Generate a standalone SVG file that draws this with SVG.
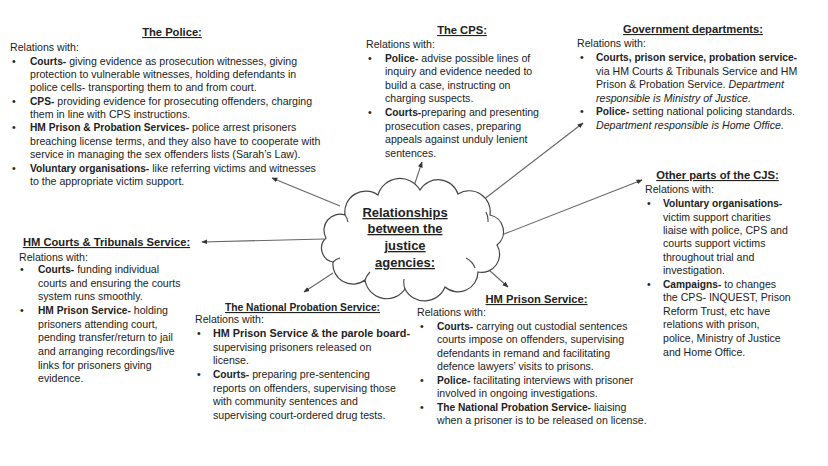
<svg xmlns="http://www.w3.org/2000/svg" width="828" height="466" viewBox="0 0 828 466">
<defs>
<style>
text{font-family:"Liberation Sans",Arial,sans-serif;font-size:10.6px;fill:#222}
.t{font-weight:bold;font-size:11.2px;text-decoration:underline;text-anchor:middle}
.b{font-weight:bold;font-size:10.2px}
.i{font-style:italic}
.c{font-weight:bold;font-size:13px;text-decoration:underline;text-anchor:middle}
.ln{stroke:#666;stroke-width:1.1;fill:none;marker-end:url(#ah)}
</style>
<marker id="ah" viewBox="0 0 10 10" refX="9" refY="5" markerWidth="6" markerHeight="6" orient="auto" markerUnits="userSpaceOnUse">
<path d="M0,1 L10,5 L0,9 z" fill="#333"/>
</marker>
</defs>
<rect width="828" height="466" fill="#fff"/>

<g id="connectors">
<line class="ln" x1="340" y1="206" x2="272" y2="178"/>
<line class="ln" x1="412" y1="192" x2="422" y2="162"/>
<line class="ln" x1="483" y1="200" x2="583" y2="123"/>
<line class="ln" x1="499" y1="236" x2="642" y2="180"/>
<line class="ln" x1="324" y1="239" x2="202" y2="242"/>
<line class="ln" x1="333" y1="273" x2="304" y2="292"/>
<line class="ln" x1="480" y1="262" x2="508" y2="287"/>
</g>

<g id="cloud">
<path d="M345,215 A21,21 0 0 1 378,195 A23,23 0 0 1 420,190 A21,21 0 0 1 458,194 A21,21 0 0 1 490,215 A17,17 0 0 1 497,245 A18,18 0 0 1 478,272 A20,20 0 0 1 445,287 A22,22 0 0 1 405,289 A22,22 0 0 1 365,280 A20,20 0 0 1 333,262 A14,14 0 0 1 326,238 A16,16 0 0 1 345,215 Z" fill="#fff" stroke="#444" stroke-width="1.2"/>
<path d="M486,212 A18,18 0 0 1 488,222 M475,268 A18,18 0 0 0 466,258 M405,289 A20,20 0 0 1 404,279 M365,280 A20,20 0 0 1 370,272 M333,262 A14,14 0 0 1 340,258 M345,215 A16,16 0 0 1 348,222" fill="none" stroke="#444" stroke-width="1.1"/>
<text class="c" x="405" y="217">Relationships</text>
<text class="c" x="405" y="233">between the</text>
<text class="c" x="405" y="250">justice</text>
<text class="c" x="405" y="267">agencies:</text>
</g>

<g id="police">
<text class="t" x="172" y="36">The Police:</text>
<text x="10" y="51">Relations with:</text>
<text x="12" y="64.5">•</text><text x="30" y="64.5"><tspan class="b">Courts-</tspan> giving evidence as prosecution witnesses, giving</text>
<text x="30" y="78">protection to vulnerable witnesses, holding defendants in</text>
<text x="30" y="91">police cells- transporting them to and from court.</text>
<text x="12" y="104.5">•</text><text x="30" y="104.5"><tspan class="b">CPS-</tspan> providing evidence for prosecuting offenders, charging</text>
<text x="30" y="118">them in line with CPS instructions.</text>
<text x="12" y="131">•</text><text x="30" y="131"><tspan class="b">HM Prison &amp; Probation Services-</tspan> police arrest prisoners</text>
<text x="30" y="144.5">breaching license terms, and they also have to cooperate with</text>
<text x="30" y="158">service in managing the sex offenders lists (Sarah’s Law).</text>
<text x="12" y="171.5">•</text><text x="30" y="171.5"><tspan class="b">Voluntary organisations-</tspan> like referring victims and witnesses</text>
<text x="30" y="185">to the appropriate victim support.</text>
</g>

<g id="cps">
<text class="t" x="462" y="34">The CPS:</text>
<text x="366" y="48">Relations with:</text>
<text x="368" y="62">•</text><text x="385" y="62"><tspan class="b">Police-</tspan> advise possible lines of</text>
<text x="385" y="75">inquiry and evidence needed to</text>
<text x="385" y="89">build a case, instructing on</text>
<text x="385" y="102">charging suspects.</text>
<text x="368" y="116">•</text><text x="385" y="116"><tspan class="b">Courts-</tspan>preparing and presenting</text>
<text x="385" y="130">prosecution cases, preparing</text>
<text x="385" y="143">appeals against unduly lenient</text>
<text x="385" y="157">sentences.</text>
</g>

<g id="government">
<text class="t" x="693" y="33">Government departments:</text>
<text x="577" y="47">Relations with:</text>
<text x="580" y="61">•</text><text x="596" y="61" class="b" textLength="201" lengthAdjust="spacingAndGlyphs">Courts, prison service, probation service-</text>
<text x="596" y="75">via HM Courts &amp; Tribunals Service and HM</text>
<text x="596" y="88">Prison &amp; Probation Service. <tspan class="i">Department</tspan></text>
<text x="596" y="101.5" class="i">responsible is Ministry of Justice.</text>
<text x="580" y="115">•</text><text x="596" y="115"><tspan class="b">Police-</tspan> setting national policing standards.</text>
<text x="596" y="129" class="i">Department responsible is Home Office.</text>
</g>

<g id="other-cjs">
<text class="t" x="717.5" y="179">Other parts of the CJS:</text>
<text x="645" y="193">Relations with:</text>
<text x="647" y="207">•</text><text x="663" y="207" class="b">Voluntary organisations-</text>
<text x="663" y="221">victim support charities</text>
<text x="663" y="234">liaise with police, CPS and</text>
<text x="663" y="247">courts support victims</text>
<text x="663" y="261">throughout trial and</text>
<text x="663" y="274">investigation.</text>
<text x="647" y="288">•</text><text x="663" y="288"><tspan class="b">Campaigns-</tspan> to changes</text>
<text x="663" y="301">the CPS- INQUEST, Prison</text>
<text x="663" y="315">Reform Trust, etc have</text>
<text x="663" y="328">relations with prison,</text>
<text x="663" y="342">police, Ministry of Justice</text>
<text x="663" y="356">and Home Office.</text>
</g>

<g id="hm-courts">
<text class="t" x="106.5" y="246">HM Courts &amp; Tribunals Service:</text>
<text x="19" y="261">Relations with:</text>
<text x="20" y="273">•</text><text x="38" y="273"><tspan class="b">Courts-</tspan> funding individual</text>
<text x="38" y="287">courts and ensuring the courts</text>
<text x="38" y="300">system runs smoothly.</text>
<text x="20" y="314">•</text><text x="38" y="314"><tspan class="b">HM Prison Service-</tspan> holding</text>
<text x="38" y="328">prisoners attending court,</text>
<text x="38" y="341">pending transfer/return to jail</text>
<text x="38" y="355">and arranging recordings/live</text>
<text x="38" y="369">links for prisoners giving</text>
<text x="38" y="382">evidence.</text>
</g>

<g id="probation">
<text class="t" x="302.5" y="311" textLength="155" lengthAdjust="spacingAndGlyphs">The National Probation Service:</text>
<text x="195" y="323">Relations with:</text>
<text x="197" y="337">•</text><text x="213" y="337" class="b" textLength="197" lengthAdjust="spacingAndGlyphs">HM Prison Service &amp; the parole board-</text>
<text x="213" y="351">supervising prisoners released on</text>
<text x="213" y="364">license.</text>
<text x="197" y="378">•</text><text x="213" y="378"><tspan class="b">Courts-</tspan> preparing pre-sentencing</text>
<text x="213" y="392">reports on offenders, supervising those</text>
<text x="213" y="405">with community sentences and</text>
<text x="213" y="419">supervising court-ordered drug tests.</text>
</g>

<g id="prison">
<text class="t" x="536.5" y="303">HM Prison Service:</text>
<text x="417" y="316">Relations with:</text>
<text x="420" y="330">•</text><text x="437" y="330"><tspan class="b">Courts-</tspan> carrying out custodial sentences</text>
<text x="437" y="343">courts impose on offenders, supervising</text>
<text x="437" y="357">defendants in remand and facilitating</text>
<text x="437" y="370">defence lawyers’ visits to prisons.</text>
<text x="420" y="384">•</text><text x="437" y="384"><tspan class="b">Police-</tspan> facilitating interviews with prisoner</text>
<text x="437" y="397">involved in ongoing investigations.</text>
<text x="420" y="411">•</text><text x="437" y="411"><tspan class="b">The National Probation Service-</tspan> liaising</text>
<text x="437" y="424">when a prisoner is to be released on license.</text>
</g>
</svg>
